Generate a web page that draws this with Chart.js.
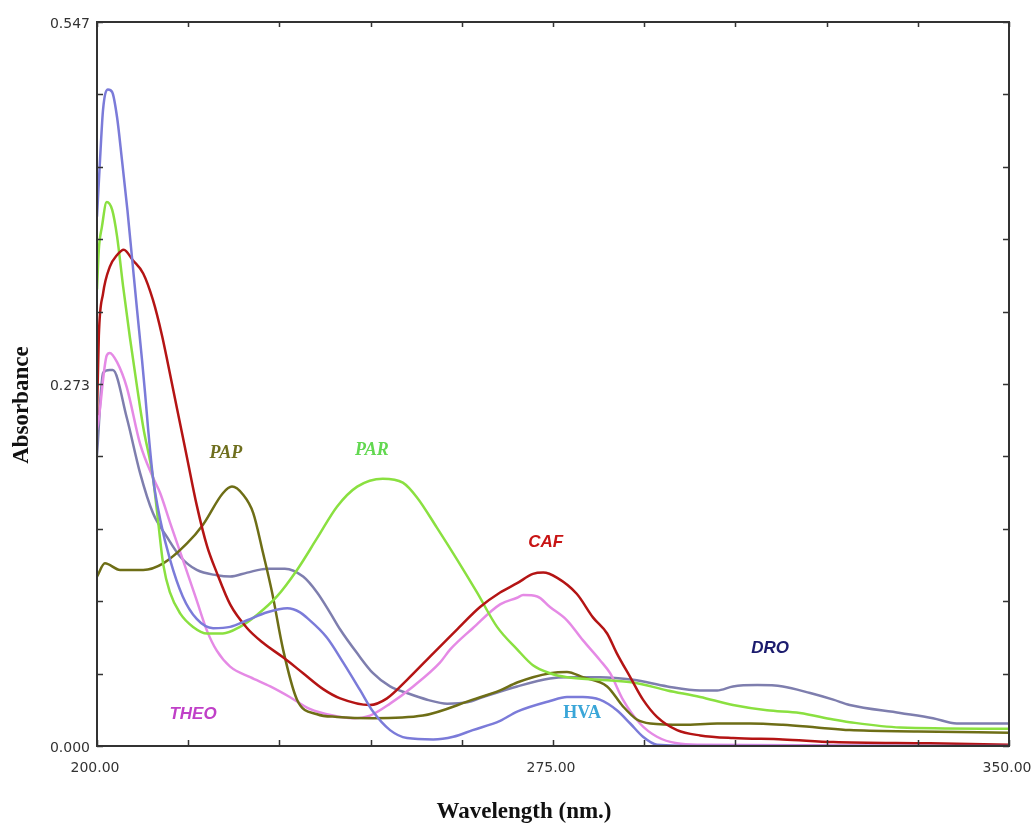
<!DOCTYPE html>
<html>
<head>
<meta charset="utf-8">
<script src="https://cdn.jsdelivr.net/npm/chart.js@4.4.0/dist/chart.umd.min.js"></script>
<style>
html, body { margin: 0; padding: 0; background: #fff; }
#wrap { width: 1033px; height: 828px; }
</style>
</head>
<body>
<div id="wrap"><canvas id="spectra" width="1033" height="828"></canvas></div>
<script>
// spectra (wavelength nm / absorbance)
var cafX = [200, 200.3, 201.0, 202.1, 203.3, 204.4, 205.9, 207.6, 209.2, 210.7, 211.7, 213.2, 214.8, 216.4, 218.1, 219.7, 221.9, 224.7, 227.3, 230.6, 233.9, 237.2, 240.0, 244.9, 247.7, 251.0, 255.3, 259.2, 263.0, 266.3, 269.1, 271.7, 273.4, 275.7, 278.9, 281.6, 283.9, 285.5, 287.7, 289.8, 292.1, 295.4, 299.2, 304.6, 312.8, 321.1, 337, 350];
var cafY = [0.250, 0.310, 0.342, 0.362, 0.371, 0.375, 0.367, 0.357, 0.337, 0.310, 0.288, 0.254, 0.218, 0.182, 0.151, 0.131, 0.107, 0.089, 0.078, 0.067, 0.055, 0.043, 0.036, 0.031, 0.036, 0.050, 0.070, 0.088, 0.105, 0.116, 0.123, 0.130, 0.131, 0.127, 0.115, 0.097, 0.085, 0.070, 0.052, 0.035, 0.022, 0.012, 0.008, 0.006, 0.005, 0.003, 0.002, 0.001];

var parX = [200, 200.3, 200.8, 201.6, 202.5, 203.3, 204.3, 205.4, 206.6, 207.6, 209.2, 209.9, 210.9, 212.0, 213.7, 215.8, 218.1, 220.7, 223.5, 226.3, 229.6, 232.9, 236.2, 239.5, 242.8, 247.0, 250.3, 252.6, 255.9, 259.2, 262.5, 265.8, 269.1, 271.7, 274.5, 277.3, 282.7, 288.2, 293.8, 299.2, 304.6, 310.2, 315.6, 321.1, 323.8, 332.1, 350];
var parY = [0.345, 0.375, 0.392, 0.411, 0.405, 0.385, 0.347, 0.309, 0.271, 0.241, 0.203, 0.176, 0.137, 0.116, 0.100, 0.090, 0.085, 0.085, 0.090, 0.099, 0.113, 0.133, 0.157, 0.181, 0.196, 0.202, 0.199, 0.188, 0.165, 0.141, 0.116, 0.090, 0.073, 0.061, 0.055, 0.052, 0.050, 0.048, 0.042, 0.037, 0.031, 0.027, 0.025, 0.020, 0.018, 0.014, 0.013];

var papX = [200, 201.3, 203.8, 207.6, 210.9, 214.8, 217.4, 220.7, 222.2, 224.0, 225.7, 227.3, 228.8, 230.6, 232.9, 236.2, 239.5, 245.4, 253.6, 261.8, 266.3, 269.1, 274.5, 277.3, 279.9, 283.9, 286.5, 288.8, 291.0, 296.4, 302.0, 307.4, 312.8, 318.4, 323.8, 335, 350];
var papY = [0.128, 0.138, 0.133, 0.133, 0.138, 0.153, 0.167, 0.191, 0.196, 0.190, 0.176, 0.146, 0.116, 0.073, 0.035, 0.024, 0.022, 0.021, 0.023, 0.035, 0.042, 0.048, 0.055, 0.056, 0.052, 0.045, 0.030, 0.020, 0.017, 0.016, 0.017, 0.017, 0.016, 0.014, 0.012, 0.011, 0.010];

var theoX = [200, 200.2, 201.6, 202.1, 203.3, 204.9, 207.1, 209.2, 210.4, 212.0, 214.1, 216.4, 218.1, 219.7, 221.9, 225.2, 228.5, 231.7, 235.0, 238.8, 242.1, 244.9, 248.2, 252.0, 256.4, 258.1, 261.8, 266.3, 269.1, 270.1, 272.4, 274.5, 277.3, 279.9, 282.7, 284.4, 286.5, 289.3, 292.1, 295.4, 299.2, 350];
var theoY = [0.239, 0.244, 0.295, 0.297, 0.290, 0.271, 0.228, 0.203, 0.191, 0.169, 0.141, 0.110, 0.087, 0.072, 0.060, 0.052, 0.045, 0.037, 0.028, 0.023, 0.021, 0.023, 0.032, 0.045, 0.063, 0.073, 0.089, 0.107, 0.112, 0.114, 0.113, 0.105, 0.095, 0.080, 0.065, 0.055, 0.035, 0.017, 0.007, 0.002, 0.001, 0.000];

var hvaX = [200, 200.5, 201.0, 201.8, 202.5, 203.3, 204.1, 205.0, 205.8, 206.6, 207.4, 207.9, 208.4, 209.2, 210.4, 212.0, 214.1, 216.4, 219.1, 221.9, 224.7, 228.0, 231.3, 233.4, 234.5, 237.8, 240.5, 243.3, 245.4, 248.2, 251.0, 255.3, 258.6, 261.8, 266.3, 269.1, 274.5, 277.3, 279.9, 282.7, 285.5, 287.7, 289.8, 292.1, 300, 350];
var hvaY = [0.400, 0.443, 0.481, 0.496, 0.494, 0.475, 0.443, 0.405, 0.367, 0.329, 0.292, 0.267, 0.240, 0.203, 0.171, 0.141, 0.113, 0.096, 0.089, 0.090, 0.095, 0.101, 0.104, 0.101, 0.097, 0.082, 0.063, 0.042, 0.026, 0.012, 0.006, 0.005, 0.007, 0.012, 0.019, 0.026, 0.034, 0.037, 0.037, 0.035, 0.027, 0.017, 0.007, 0.001, 0.000, 0.000];

var droX = [200, 201.0, 202.1, 202.6, 204.9, 207.1, 209.2, 211.5, 213.7, 216.4, 219.7, 221.9, 224.7, 228.0, 230.9, 233.9, 236.2, 238.3, 240.0, 242.8, 245.4, 248.2, 251.0, 254.3, 257.6, 260.9, 263.5, 269.1, 274.5, 277.3, 282.7, 288.2, 293.8, 299.2, 302.0, 304.6, 308.6, 312.8, 317.3, 321.1, 323.8, 332.1, 337.5, 341.4, 350];
var droY = [0.220, 0.282, 0.284, 0.284, 0.248, 0.206, 0.176, 0.158, 0.143, 0.133, 0.129, 0.128, 0.131, 0.134, 0.134, 0.128, 0.116, 0.101, 0.088, 0.070, 0.055, 0.045, 0.040, 0.035, 0.032, 0.033, 0.037, 0.045, 0.051, 0.052, 0.052, 0.050, 0.045, 0.042, 0.042, 0.045, 0.046, 0.045, 0.040, 0.035, 0.031, 0.025, 0.021, 0.017, 0.017];

// axis ticks
var xTicks = [200, 215, 230, 245, 260, 275, 290, 305, 320, 335, 350];
var xTickLabels = ['200.00', '', '', '', '', '275.00', '', '', '', '', '350.00'];
var yTicks = [0, 0.0547, 0.1094, 0.1641, 0.2188, 0.2735, 0.3282, 0.3829, 0.4376, 0.4923, 0.547];
var yTickLabels = ['0.000', '', '', '', '', '0.273', '', '', '', '', '0.547'];

// curve names written on the plot
var tagNames = ['PAP', 'PAR', 'CAF', 'DRO', 'HVA', 'THEO'];
var tagX = [221.2, 245.2, 273.8, 310.7, 279.8, 215.8];
var tagY = [0.221, 0.223, 0.154, 0.074, 0.025, 0.024];

function toPoints(xs, ys) {
    return xs.map(function (x, i) { return { x: x, y: ys[i] }; });
}

function serie(label, xs, ys, color) {
    return {
        label: label,
        data: toPoints(xs, ys),
        borderColor: color,
        borderWidth: 2.5,
        pointRadius: 0,
        fill: false,
        cubicInterpolationMode: 'monotone'
    };
}

var tagStyle = {
    PAP: { color: '#6f6f1e', font: 'italic bold 18px "Liberation Serif"' },
    PAR: { color: '#62d850', font: 'italic bold 18px "Liberation Serif"' },
    CAF: { color: '#c81414', font: 'italic bold 17px "Liberation Sans"' },
    DRO: { color: '#1c1c6e', font: 'italic bold 17px "Liberation Sans"' },
    HVA: { color: '#3aa6d8', font: 'bold 18px "Liberation Serif"' },
    THEO: { color: '#c040c8', font: 'italic bold 17px "Liberation Sans"' }
};

var khungPlugin = {
    id: 'khung',
    beforeDraw: function (chart) {
        var c = chart.ctx;
        c.save();
        c.fillStyle = '#fff';
        c.fillRect(0, 0, chart.width, chart.height);
        c.restore();
    },
    afterDraw: function (chart) {
        var c = chart.ctx;
        var a = chart.chartArea;
        var sx = chart.scales.x, sy = chart.scales.y;
        c.save();
        // frame
        c.strokeStyle = '#333';
        c.lineWidth = 2;
        c.strokeRect(a.left, a.top, a.right - a.left, a.bottom - a.top);
        // inward ticks
        c.lineWidth = 1.5;
        c.beginPath();
        xTicks.forEach(function (v) {
            var px = Math.round(sx.getPixelForValue(v)) + 0.5;
            c.moveTo(px, a.bottom); c.lineTo(px, a.bottom - 6);
            c.moveTo(px, a.top); c.lineTo(px, a.top + 5);
        });
        yTicks.forEach(function (v) {
            var py = Math.round(sy.getPixelForValue(v)) + 0.5;
            c.moveTo(a.left, py); c.lineTo(a.left + 6, py);
            c.moveTo(a.right, py); c.lineTo(a.right - 6, py);
        });
        c.stroke();
        // tick labels
        c.fillStyle = '#333';
        c.font = '14px "DejaVu Sans"';
        c.textAlign = 'right';
        c.textBaseline = 'middle';
        yTicks.forEach(function (v, i) {
            if (yTickLabels[i]) c.fillText(yTickLabels[i], a.left - 7, sy.getPixelForValue(v) + 2);
        });
        c.textAlign = 'center';
        xTicks.forEach(function (v, i) {
            if (xTickLabels[i]) c.fillText(xTickLabels[i], sx.getPixelForValue(v) - 2, a.bottom + 22);
        });
        // axis titles
        c.fillStyle = '#111';
        c.font = 'bold 23px "Liberation Serif"';
        c.fillText('Wavelength (nm.)', 524, 812);
        c.save();
        c.translate(22, 405);
        c.rotate(-Math.PI / 2);
        c.fillText('Absorbance', 0, 0);
        c.restore();
        // curve names
        tagNames.forEach(function (t, i) {
            c.fillStyle = tagStyle[t].color;
            c.font = tagStyle[t].font;
            c.fillText(t, sx.getPixelForValue(tagX[i]), sy.getPixelForValue(tagY[i]));
        });
        c.restore();
    }
};

var ctx = document.getElementById('spectra').getContext('2d');
var _myChart = new Chart(ctx, {
    type: 'line',
    data: {
        datasets: [
            serie('HVA', hvaX, hvaY, '#7b7bd9'),
            serie('CAF', cafX, cafY, '#b41414'),
            serie('PAR', parX, parY, '#8ae040'),
            serie('PAP', papX, papY, '#6e6e16'),
            serie('THEO', theoX, theoY, '#e58ae5'),
            serie('DRO', droX, droY, '#7e7eae')
        ]
    },
    options: {
        responsive: false,
        animation: false,
        layout: { padding: { left: 97, top: 22, right: 24, bottom: 82 } },
        plugins: { legend: { display: false }, tooltip: { enabled: false } },
        scales: {
            x: { type: 'linear', min: 200, max: 350, display: false },
            y: { min: 0, max: 0.547, display: false }
        }
    },
    plugins: [khungPlugin]
});
</script>
</body>
</html>
